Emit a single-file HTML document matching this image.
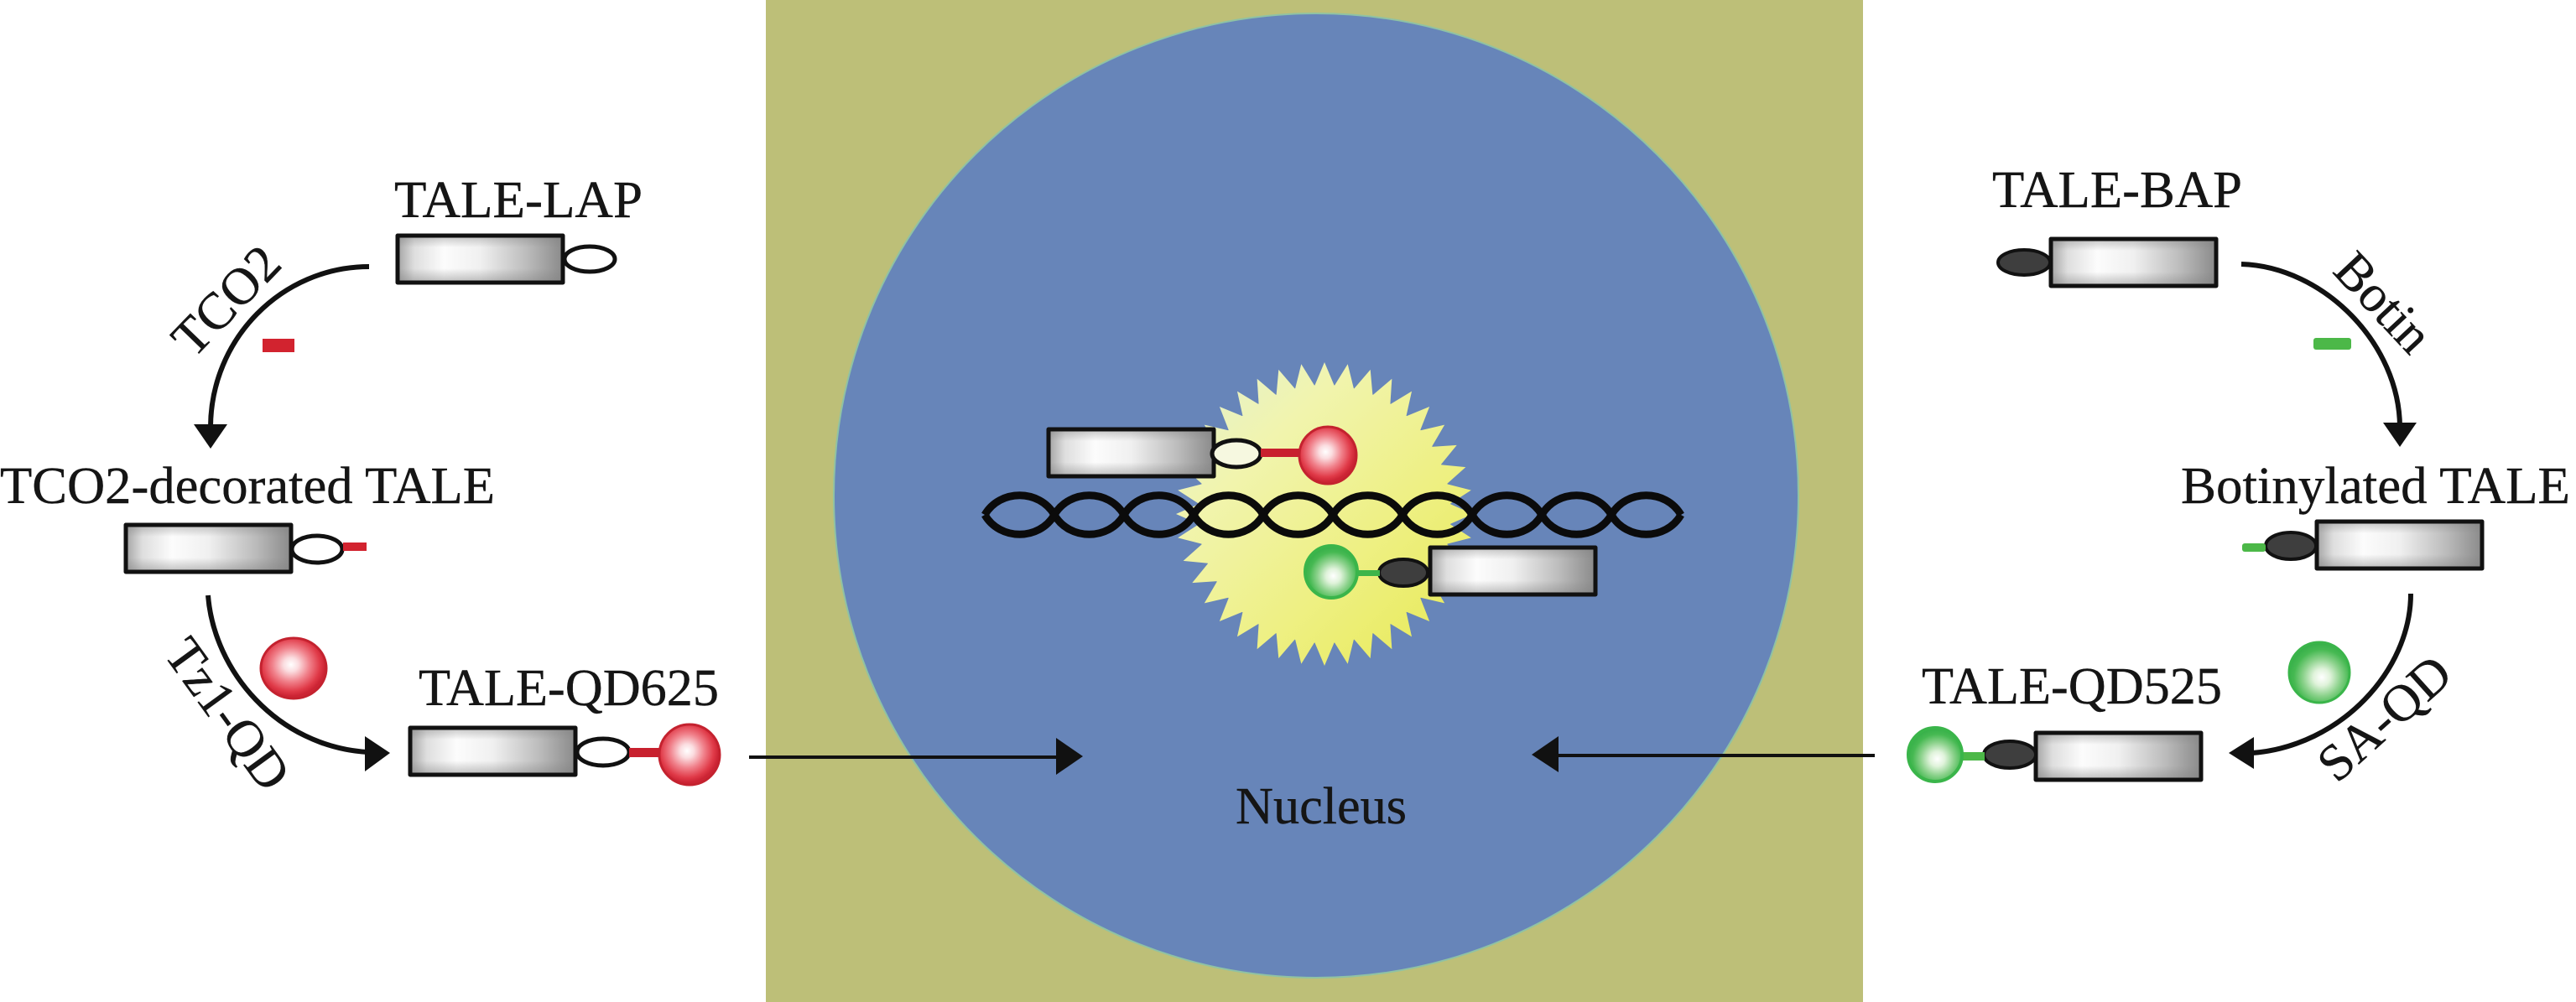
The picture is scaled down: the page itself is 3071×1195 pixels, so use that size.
<!DOCTYPE html>
<html><head><meta charset="utf-8"><style>
html,body{margin:0;padding:0;background:#fff}
svg{display:block}
text{font-family:"Liberation Serif",serif;fill:#151515;font-size:62px;stroke:#151515;stroke-width:.4}
</style></head><body>
<svg xmlns="http://www.w3.org/2000/svg" width="3071" height="1195" viewBox="0 0 3071 1195">
<defs>
<linearGradient id="gh" x1="0" x2="1" y1="0" y2="0">
<stop offset="0" stop-color="#a4a4a4"/><stop offset=".1" stop-color="#dedede"/><stop offset=".28" stop-color="#fcfcfc"/><stop offset=".5" stop-color="#f0f0f0"/><stop offset=".78" stop-color="#bcbcbc"/><stop offset="1" stop-color="#8a8a8a"/>
</linearGradient>
<linearGradient id="gv" x1="0" x2="0" y1="0" y2="1">
<stop offset="0" stop-color="#808080" stop-opacity=".45"/><stop offset=".25" stop-color="#808080" stop-opacity="0"/><stop offset=".7" stop-color="#808080" stop-opacity="0"/><stop offset="1" stop-color="#808080" stop-opacity=".5"/>
</linearGradient>
<radialGradient id="rb" cx=".46" cy=".44" r=".52"><stop offset="0" stop-color="#fff"/><stop offset=".22" stop-color="#fbdde0"/><stop offset=".55" stop-color="#f0808a"/><stop offset=".85" stop-color="#e03a48"/><stop offset="1" stop-color="#cc2434"/></radialGradient>
<radialGradient id="gb" cx=".54" cy=".58" r=".56"><stop offset="0" stop-color="#fff"/><stop offset=".25" stop-color="#e0f3db"/><stop offset=".55" stop-color="#8cd28c"/><stop offset=".82" stop-color="#46b952"/><stop offset="1" stop-color="#38b04a"/></radialGradient>
<linearGradient id="st" x1="0" y1="0" x2="1" y2="1"><stop offset="0" stop-color="#dff0d8"/><stop offset=".3" stop-color="#f1f4ae"/><stop offset=".6" stop-color="#eef084"/><stop offset="1" stop-color="#e6e84a"/></linearGradient>
<g id="tale"><rect width="197" height="56" fill="url(#gh)"/><rect width="197" height="56" fill="url(#gv)"/><rect width="197" height="56" fill="none" stroke="#111" stroke-width="5" stroke-linejoin="round"/></g>
<polygon id="t1" points="0,-181 -12,-153 12,-153" fill="#fff"/>
<g id="t2"><use href="#t1"/><use href="#t1" transform="rotate(9)"/></g>
<g id="t4"><use href="#t2"/><use href="#t2" transform="rotate(18)"/></g>
<g id="t8"><use href="#t4"/><use href="#t4" transform="rotate(36)"/></g>
<mask id="burst" maskUnits="userSpaceOnUse" x="1380" y="420" width="400" height="390">
<g transform="translate(1579 613) scale(.978 1)"><use href="#t8"/><use href="#t8" transform="rotate(72)"/><use href="#t8" transform="rotate(144)"/><use href="#t8" transform="rotate(216)"/><use href="#t8" transform="rotate(288)"/><circle r="154" fill="#fff"/></g>
</mask>
</defs>

<rect x="913" y="0" width="1308" height="1195" fill="#bdbf78"/>
<circle cx="1569" cy="591" r="575" fill="#6785b9" stroke="#8fc2a4" stroke-width="2"/>

<rect x="1380" y="420" width="400" height="390" fill="url(#st)" mask="url(#burst)"/>

<g fill="none" stroke="#0b0b0b" stroke-width="9" stroke-linejoin="round">
<path d="M1174 614c18 -31 65 -31 83 0c18 31 65 31 83 0c18 -31 65 -31 83 0c18 31 65 31 83 0c18 -31 65 -31 83 0c18 31 65 31 83 0c18 -31 65 -31 83 0c18 31 65 31 83 0c18 -31 65 -31 83 0c18 31 65 31 83 0"/>
<path d="M1174 614c18 31 65 31 83 0c18 -31 65 -31 83 0c18 31 65 31 83 0c18 -31 65 -31 83 0c18 31 65 31 83 0c18 -31 65 -31 83 0c18 31 65 31 83 0c18 -31 65 -31 83 0c18 31 65 31 83 0c18 -31 65 -31 83 0"/>
</g>

<!-- centre constructs -->
<use href="#tale" x="1250" y="512"/>
<ellipse cx="1474" cy="541" rx="29" ry="16" fill="#f6f8e0" stroke="#111" stroke-width="5"/>
<rect x="1503" y="535" width="46" height="10" fill="#c8202e"/>
<circle cx="1583" cy="543" r="34" fill="url(#rb)" stroke="#c4222f" stroke-width="3"/>
<use href="#tale" x="1705" y="653"/>
<ellipse cx="1673" cy="683" rx="29" ry="16" fill="#3e3e3e" stroke="#111" stroke-width="4"/>
<rect x="1618" y="680" width="27" height="7" fill="#3db54a"/>
<circle cx="1587" cy="682" r="31" fill="url(#gb)" stroke="#3ab54a" stroke-width="4"/>

<!-- left -->
<text x="470" y="259" textLength="296" lengthAdjust="spacingAndGlyphs">TALE-LAP</text>
<use href="#tale" x="474" y="281"/>
<ellipse cx="703" cy="309" rx="30" ry="15" fill="#fff" stroke="#111" stroke-width="5"/>
<path d="M440 318C336 318 251 404 251 510" fill="none" stroke="#111" stroke-width="6"/>
<polygon points="231,506 271,506 251,535" fill="#111"/>
<rect x="313" y="404" width="38" height="16" fill="#d2232f"/>
<g transform="translate(270 359) rotate(-46)"><text x="0" y="20" text-anchor="middle">TCO2</text></g>

<text x="0" y="600" textLength="590" lengthAdjust="spacingAndGlyphs">TCO2-decorated TALE</text>
<use href="#tale" x="150" y="626"/>
<ellipse cx="378" cy="655" rx="30" ry="16" fill="#fff" stroke="#111" stroke-width="5"/>
<rect x="409" y="647" width="28" height="10" fill="#d2232f"/>
<path d="M248 710C255 800 330 890 438 897" fill="none" stroke="#111" stroke-width="6"/>
<polygon points="435,878 435,920 465,898" fill="#111"/>
<ellipse cx="350" cy="797" rx="39" ry="36" fill="url(#rb)" stroke="#c4222f" stroke-width="3"/>
<g transform="translate(271 852) rotate(54)"><text x="0" y="20" text-anchor="middle">Tz1-QD</text></g>

<text x="499" y="841" textLength="358" lengthAdjust="spacingAndGlyphs">TALE-QD625</text>
<use href="#tale" x="489" y="868"/>
<ellipse cx="719" cy="897" rx="31" ry="16" fill="#fff" stroke="#111" stroke-width="5"/>
<rect x="750" y="892" width="38" height="11" fill="#c8202e"/>
<circle cx="822" cy="900" r="36" fill="url(#rb)" stroke="#c4222f" stroke-width="3"/>

<line x1="893" y1="903" x2="1262" y2="903" stroke="#111" stroke-width="4"/>
<polygon points="1259,880 1259,924 1291,902" fill="#111"/>
<line x1="1855" y1="901" x2="2235" y2="901" stroke="#111" stroke-width="4"/>
<polygon points="1858,878 1858,921 1826,900" fill="#111"/>

<text x="1473" y="982" textLength="204" lengthAdjust="spacingAndGlyphs">Nucleus</text>

<!-- right -->
<text x="2375" y="247" textLength="298" lengthAdjust="spacingAndGlyphs">TALE-BAP</text>
<use href="#tale" x="2445" y="285"/>
<ellipse cx="2413" cy="313" rx="31" ry="15" fill="#3e3e3e" stroke="#111" stroke-width="4"/>
<path d="M2672 315C2770 318 2861 410 2861 510" fill="none" stroke="#111" stroke-width="6"/>
<polygon points="2841,504 2881,504 2861,533" fill="#111"/>
<rect x="2758" y="403" width="45" height="14" rx="3" fill="#4cb848"/>
<g transform="translate(2841 361) rotate(47)"><text x="0" y="20" text-anchor="middle">Botin</text></g>

<text x="2600" y="600" textLength="464" lengthAdjust="spacingAndGlyphs">Botinylated TALE</text>
<use href="#tale" x="2762" y="622"/>
<ellipse cx="2731" cy="651" rx="30" ry="16" fill="#3e3e3e" stroke="#111" stroke-width="4"/>
<rect x="2673" y="648" width="28" height="10" rx="3" fill="#4cb848"/>
<path d="M2874 708C2874 800 2790 890 2685 898" fill="none" stroke="#111" stroke-width="6"/>
<polygon points="2687,879 2687,917 2657,898" fill="#111"/>
<circle cx="2765" cy="802" r="36" fill="url(#gb)" stroke="#3ab54a" stroke-width="3"/>
<g transform="translate(2843 857) rotate(-42)"><text x="0" y="20" text-anchor="middle">SA-QD</text></g>

<text x="2291" y="839" textLength="358" lengthAdjust="spacingAndGlyphs">TALE-QD525</text>
<use href="#tale" x="2427" y="874"/>
<ellipse cx="2396" cy="900" rx="31" ry="16" fill="#3e3e3e" stroke="#111" stroke-width="4"/>
<rect x="2338" y="897" width="28" height="10" fill="#4cb848"/>
<circle cx="2307" cy="900" r="32" fill="url(#gb)" stroke="#3ab54a" stroke-width="4"/>
</svg>
</body></html>
